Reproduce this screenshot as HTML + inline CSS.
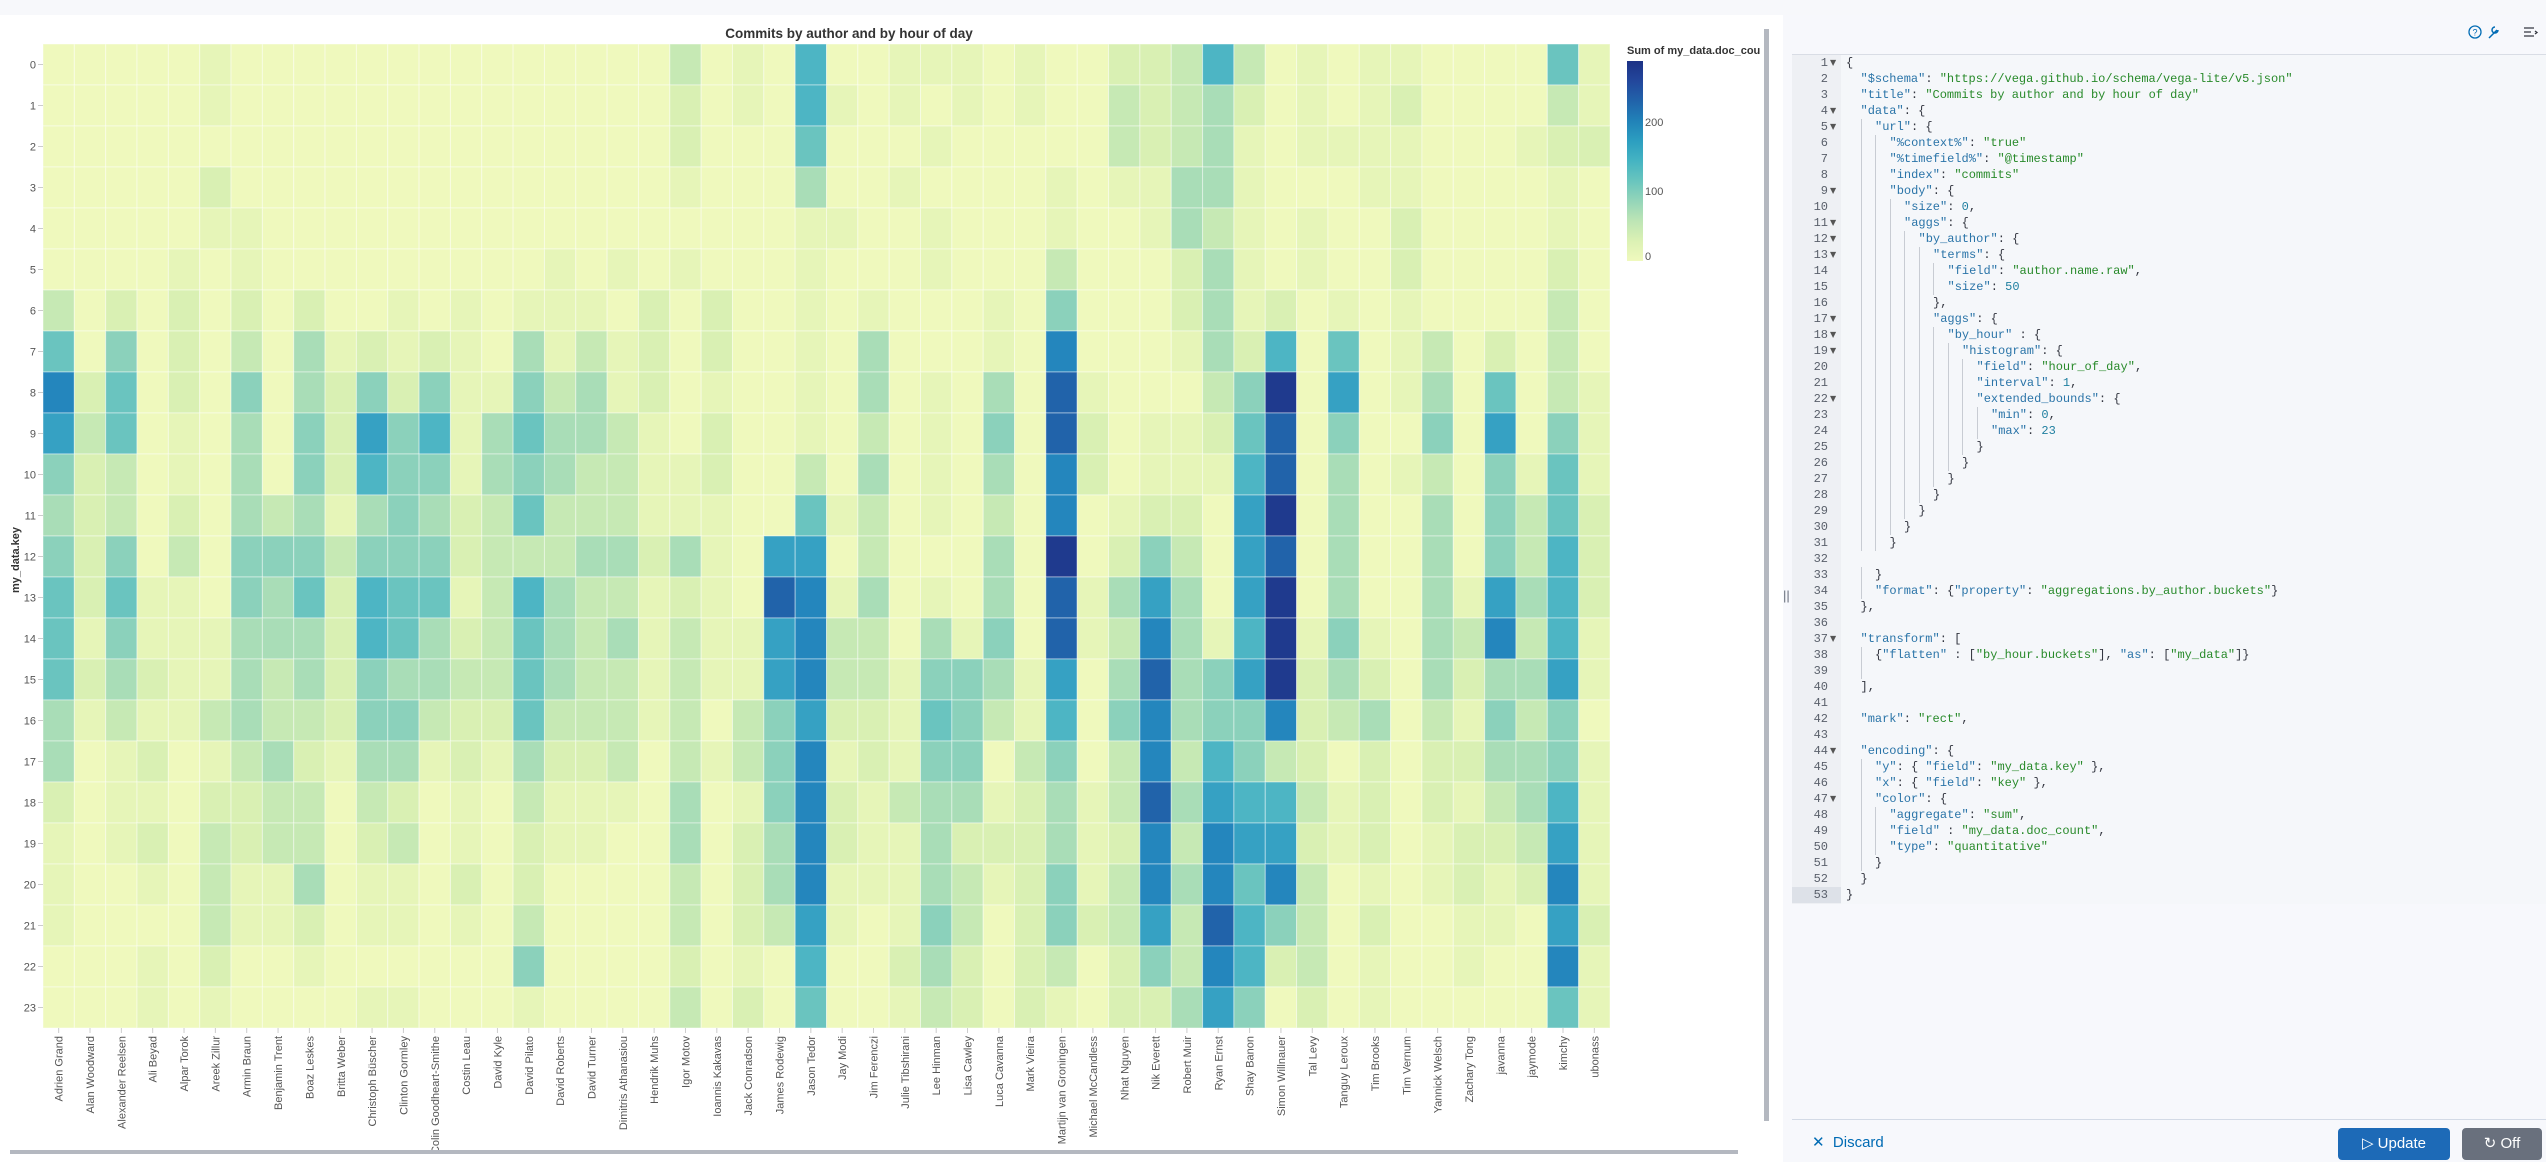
<!DOCTYPE html>
<html><head><meta charset="utf-8">
<style>
*{margin:0;padding:0;box-sizing:border-box}
body{width:2546px;height:1162px;overflow:hidden;background:#fff;font-family:"Liberation Sans",sans-serif;position:relative}
#top{position:absolute;left:0;top:0;width:2546px;height:15px;background:#f7f8fb}
#right{position:absolute;left:1783px;top:15px;width:763px;height:1147px;background:#f7f8fc}
#gut{position:absolute;left:1792px;top:54px;width:49px;height:850px;background:#eef0f4;border-top:1px solid #d9dde5}
#ed{position:absolute;left:1841px;top:54px;width:705px;height:850px;background:#f5f7fa;border-top:1px solid #d9dde5}
#nums{position:absolute;left:1792px;top:55px;width:36px;font:12px/16px "Liberation Mono",monospace;color:#5a606b;text-align:right}
#folds{position:absolute;left:1830px;top:55px;width:10px;font:8px/16px "DejaVu Sans",sans-serif;color:#555}
#hl{position:absolute;left:1792px;top:887px;width:49px;height:16px;background:#dde1e8}
#code{position:absolute;left:1846px;top:55px;font:12px/16px "Liberation Mono",monospace;color:#343741;white-space:normal}
#code div{height:16px;white-space:pre}
#code b{display:inline-block;width:14.5px;height:16px;vertical-align:top;font-weight:normal}
#code b.g{background:linear-gradient(#c8ccd3,#c8ccd3) no-repeat 0 0/1px 100%}
.k{color:#2a74a8}.s{color:#288a2a}.n{color:#1f7fa0}
#sep{position:absolute;left:1792px;top:1119px;width:754px;height:1px;background:#d3dae6}
.btn{position:absolute;top:1128px;height:32px;border-radius:4px;color:#fff;font-size:15px;line-height:32px;text-align:center}
</style></head><body>
<div id="top"></div>
<svg id="chart" width="1783" height="1162" style="position:absolute;left:0;top:0" xmlns="http://www.w3.org/2000/svg">
<rect x="0" y="15" width="1783" height="1147" fill="#fff"/>
<g id="cells"></g>
<text x="849" y="38" text-anchor="middle" font-family="Liberation Sans" font-weight="bold" font-size="13.5" fill="#333">Commits by author and by hour of day</text>
<g font-family="Liberation Sans" font-size="11" fill="#555" text-anchor="end">
<text x="36" y="68.5">0</text><text x="36" y="109.5">1</text><text x="36" y="150.5">2</text><text x="36" y="191.5">3</text><text x="36" y="232.5">4</text><text x="36" y="273.5">5</text><text x="36" y="314.5">6</text><text x="36" y="355.5">7</text><text x="36" y="396.5">8</text><text x="36" y="437.5">9</text><text x="36" y="478.5">10</text><text x="36" y="519.5">11</text><text x="36" y="560.5">12</text><text x="36" y="601.5">13</text><text x="36" y="642.5">14</text><text x="36" y="683.5">15</text><text x="36" y="724.5">16</text><text x="36" y="765.5">17</text><text x="36" y="806.5">18</text><text x="36" y="847.5">19</text><text x="36" y="888.5">20</text><text x="36" y="929.5">21</text><text x="36" y="970.5">22</text><text x="36" y="1011.5">23</text>
</g>
<text transform="translate(19,560) rotate(-90)" text-anchor="middle" font-family="Liberation Sans" font-weight="bold" font-size="11" fill="#333">my_data.key</text>
<g font-family="Liberation Sans" font-size="11" fill="#555" text-anchor="end">
<text transform="translate(62.7,1036) rotate(-90)">Adrien Grand</text>
<text transform="translate(94.0,1036) rotate(-90)">Alan Woodward</text>
<text transform="translate(125.4,1036) rotate(-90)">Alexander Reelsen</text>
<text transform="translate(156.7,1036) rotate(-90)">Ali Beyad</text>
<text transform="translate(188.1,1036) rotate(-90)">Alpar Torok</text>
<text transform="translate(219.4,1036) rotate(-90)">Areek Zillur</text>
<text transform="translate(250.7,1036) rotate(-90)">Armin Braun</text>
<text transform="translate(282.1,1036) rotate(-90)">Benjamin Trent</text>
<text transform="translate(313.4,1036) rotate(-90)">Boaz Leskes</text>
<text transform="translate(344.8,1036) rotate(-90)">Britta Weber</text>
<text transform="translate(376.1,1036) rotate(-90)">Christoph Büscher</text>
<text transform="translate(407.4,1036) rotate(-90)">Clinton Gormley</text>
<text transform="translate(438.8,1036) rotate(-90)">Colin Goodheart-Smithe</text>
<text transform="translate(470.1,1036) rotate(-90)">Costin Leau</text>
<text transform="translate(501.5,1036) rotate(-90)">David Kyle</text>
<text transform="translate(532.8,1036) rotate(-90)">David Pilato</text>
<text transform="translate(564.1,1036) rotate(-90)">David Roberts</text>
<text transform="translate(595.5,1036) rotate(-90)">David Turner</text>
<text transform="translate(626.8,1036) rotate(-90)">Dimitris Athanasiou</text>
<text transform="translate(658.2,1036) rotate(-90)">Hendrik Muhs</text>
<text transform="translate(689.5,1036) rotate(-90)">Igor Motov</text>
<text transform="translate(720.8,1036) rotate(-90)">Ioannis Kakavas</text>
<text transform="translate(752.2,1036) rotate(-90)">Jack Conradson</text>
<text transform="translate(783.5,1036) rotate(-90)">James Rodewig</text>
<text transform="translate(814.9,1036) rotate(-90)">Jason Tedor</text>
<text transform="translate(846.2,1036) rotate(-90)">Jay Modi</text>
<text transform="translate(877.5,1036) rotate(-90)">Jim Ferenczi</text>
<text transform="translate(908.9,1036) rotate(-90)">Julie Tibshirani</text>
<text transform="translate(940.2,1036) rotate(-90)">Lee Hinman</text>
<text transform="translate(971.6,1036) rotate(-90)">Lisa Cawley</text>
<text transform="translate(1002.9,1036) rotate(-90)">Luca Cavanna</text>
<text transform="translate(1034.2,1036) rotate(-90)">Mark Vieira</text>
<text transform="translate(1065.6,1036) rotate(-90)">Martijn van Groningen</text>
<text transform="translate(1096.9,1036) rotate(-90)">Michael McCandless</text>
<text transform="translate(1128.3,1036) rotate(-90)">Nhat Nguyen</text>
<text transform="translate(1159.6,1036) rotate(-90)">Nik Everett</text>
<text transform="translate(1190.9,1036) rotate(-90)">Robert Muir</text>
<text transform="translate(1222.3,1036) rotate(-90)">Ryan Ernst</text>
<text transform="translate(1253.6,1036) rotate(-90)">Shay Banon</text>
<text transform="translate(1285.0,1036) rotate(-90)">Simon Willnauer</text>
<text transform="translate(1316.3,1036) rotate(-90)">Tal Levy</text>
<text transform="translate(1347.6,1036) rotate(-90)">Tanguy Leroux</text>
<text transform="translate(1379.0,1036) rotate(-90)">Tim Brooks</text>
<text transform="translate(1410.3,1036) rotate(-90)">Tim Vernum</text>
<text transform="translate(1441.7,1036) rotate(-90)">Yannick Welsch</text>
<text transform="translate(1473.0,1036) rotate(-90)">Zachary Tong</text>
<text transform="translate(1504.3,1036) rotate(-90)">javanna</text>
<text transform="translate(1535.7,1036) rotate(-90)">jaymode</text>
<text transform="translate(1567.0,1036) rotate(-90)">kimchy</text>
<text transform="translate(1598.4,1036) rotate(-90)">ubonass</text>
</g>
<defs><linearGradient id="lg" x1="0" y1="1" x2="0" y2="0">
<stop offset="0" stop-color="#eff9bd"/><stop offset="0.1" stop-color="#dbf1b4"/><stop offset="0.2" stop-color="#bde5b5"/><stop offset="0.3" stop-color="#94d5b9"/><stop offset="0.4" stop-color="#69c5be"/><stop offset="0.5" stop-color="#45b4c2"/><stop offset="0.6" stop-color="#2c9ec0"/><stop offset="0.7" stop-color="#2182b8"/><stop offset="0.8" stop-color="#2163aa"/><stop offset="0.9" stop-color="#23479c"/><stop offset="1" stop-color="#1c3185"/>
</linearGradient>
<clipPath id="lc"><rect x="1600" y="0" width="160" height="300"/></clipPath></defs>
<rect x="1627" y="61" width="16" height="200" fill="url(#lg)"/>
<g font-family="Liberation Sans" font-size="11" fill="#555">
<text x="1645" y="126">200</text><text x="1645" y="195">100</text><text x="1645" y="260">0</text>
</g>
<text x="1627" y="54" clip-path="url(#lc)" font-family="Liberation Sans" font-weight="bold" font-size="11" fill="#333">Sum of my_data.doc_count</text>
<rect x="1764" y="29" width="5" height="1092" fill="#b4b8c0"/>
<rect x="10" y="1150" width="1728" height="4" fill="#b4b8c0"/>
</svg>
<div id="right"></div>
<div style="position:absolute;left:1783px;top:588px;font:13px 'Liberation Sans';color:#69707d">||</div>
<svg width="80" height="20" style="position:absolute;left:2466px;top:23px" xmlns="http://www.w3.org/2000/svg">
<circle cx="9" cy="9" r="6" fill="none" stroke="#006bb4" stroke-width="1.3"/>
<text x="9" y="12.5" text-anchor="middle" font-family="Liberation Sans" font-size="9" fill="#006bb4">?</text>
<path d="M23 15 L31 7 M29 4 a3 3 0 1 0 3 3" fill="none" stroke="#006bb4" stroke-width="1.5"/>
<path d="M58 5 h10 M58 9 h7 M58 13 h10 M69 8 l2 1.5 -2 1.5" fill="none" stroke="#343741" stroke-width="1.3"/>
</svg>
<div id="gut"></div><div id="ed"></div><div id="hl"></div>
<div id="nums">1<br>2<br>3<br>4<br>5<br>6<br>7<br>8<br>9<br>10<br>11<br>12<br>13<br>14<br>15<br>16<br>17<br>18<br>19<br>20<br>21<br>22<br>23<br>24<br>25<br>26<br>27<br>28<br>29<br>30<br>31<br>32<br>33<br>34<br>35<br>36<br>37<br>38<br>39<br>40<br>41<br>42<br>43<br>44<br>45<br>46<br>47<br>48<br>49<br>50<br>51<br>52<br>53</div>
<div id="folds">▼<br><br><br>▼<br>▼<br><br><br><br>▼<br><br>▼<br>▼<br>▼<br><br><br><br>▼<br>▼<br>▼<br><br><br>▼<br><br><br><br><br><br><br><br><br><br><br><br><br><br><br>▼<br><br><br><br><br><br><br>▼<br><br><br>▼<br></div>
<div id="code">
<div>{</div>
<div><b></b><span class="k">"$schema"</span>: <span class="s">"https://vega.github.io/schema/vega-lite/v5.json"</span></div>
<div><b></b><span class="k">"title"</span>: <span class="s">"Commits by author and by hour of day"</span></div>
<div><b></b><span class="k">"data"</span>: {</div>
<div><b></b><b class="g"></b><span class="k">"url"</span>: {</div>
<div><b></b><b class="g"></b><b class="g"></b><span class="k">"%context%"</span>: <span class="s">"true"</span></div>
<div><b></b><b class="g"></b><b class="g"></b><span class="k">"%timefield%"</span>: <span class="s">"@timestamp"</span></div>
<div><b></b><b class="g"></b><b class="g"></b><span class="k">"index"</span>: <span class="s">"commits"</span></div>
<div><b></b><b class="g"></b><b class="g"></b><span class="k">"body"</span>: {</div>
<div><b></b><b class="g"></b><b class="g"></b><b class="g"></b><span class="k">"size"</span>: <span class="n">0</span>,</div>
<div><b></b><b class="g"></b><b class="g"></b><b class="g"></b><span class="k">"aggs"</span>: {</div>
<div><b></b><b class="g"></b><b class="g"></b><b class="g"></b><b class="g"></b><span class="k">"by_author"</span>: {</div>
<div><b></b><b class="g"></b><b class="g"></b><b class="g"></b><b class="g"></b><b class="g"></b><span class="k">"terms"</span>: {</div>
<div><b></b><b class="g"></b><b class="g"></b><b class="g"></b><b class="g"></b><b class="g"></b><b class="g"></b><span class="k">"field"</span>: <span class="s">"author.name.raw"</span>,</div>
<div><b></b><b class="g"></b><b class="g"></b><b class="g"></b><b class="g"></b><b class="g"></b><b class="g"></b><span class="k">"size"</span>: <span class="n">50</span></div>
<div><b></b><b class="g"></b><b class="g"></b><b class="g"></b><b class="g"></b><b class="g"></b>},</div>
<div><b></b><b class="g"></b><b class="g"></b><b class="g"></b><b class="g"></b><b class="g"></b><span class="k">"aggs"</span>: {</div>
<div><b></b><b class="g"></b><b class="g"></b><b class="g"></b><b class="g"></b><b class="g"></b><b class="g"></b><span class="k">"by_hour"</span> : {</div>
<div><b></b><b class="g"></b><b class="g"></b><b class="g"></b><b class="g"></b><b class="g"></b><b class="g"></b><b class="g"></b><span class="k">"histogram"</span>: {</div>
<div><b></b><b class="g"></b><b class="g"></b><b class="g"></b><b class="g"></b><b class="g"></b><b class="g"></b><b class="g"></b><b class="g"></b><span class="k">"field"</span>: <span class="s">"hour_of_day"</span>,</div>
<div><b></b><b class="g"></b><b class="g"></b><b class="g"></b><b class="g"></b><b class="g"></b><b class="g"></b><b class="g"></b><b class="g"></b><span class="k">"interval"</span>: <span class="n">1</span>,</div>
<div><b></b><b class="g"></b><b class="g"></b><b class="g"></b><b class="g"></b><b class="g"></b><b class="g"></b><b class="g"></b><b class="g"></b><span class="k">"extended_bounds"</span>: {</div>
<div><b></b><b class="g"></b><b class="g"></b><b class="g"></b><b class="g"></b><b class="g"></b><b class="g"></b><b class="g"></b><b class="g"></b><b class="g"></b><span class="k">"min"</span>: <span class="n">0</span>,</div>
<div><b></b><b class="g"></b><b class="g"></b><b class="g"></b><b class="g"></b><b class="g"></b><b class="g"></b><b class="g"></b><b class="g"></b><b class="g"></b><span class="k">"max"</span>: <span class="n">23</span></div>
<div><b></b><b class="g"></b><b class="g"></b><b class="g"></b><b class="g"></b><b class="g"></b><b class="g"></b><b class="g"></b><b class="g"></b>}</div>
<div><b></b><b class="g"></b><b class="g"></b><b class="g"></b><b class="g"></b><b class="g"></b><b class="g"></b><b class="g"></b>}</div>
<div><b></b><b class="g"></b><b class="g"></b><b class="g"></b><b class="g"></b><b class="g"></b><b class="g"></b>}</div>
<div><b></b><b class="g"></b><b class="g"></b><b class="g"></b><b class="g"></b><b class="g"></b>}</div>
<div><b></b><b class="g"></b><b class="g"></b><b class="g"></b><b class="g"></b>}</div>
<div><b></b><b class="g"></b><b class="g"></b><b class="g"></b>}</div>
<div><b></b><b class="g"></b><b class="g"></b>}</div>
<div></div>
<div><b></b><b class="g"></b>}</div>
<div><b></b><b class="g"></b><span class="k">"format"</span>: {<span class="k">"property"</span>: <span class="s">"aggregations.by_author.buckets"</span>}</div>
<div><b></b>},</div>
<div></div>
<div><b></b><span class="k">"transform"</span>: [</div>
<div><b></b><b class="g"></b>{<span class="k">"flatten"</span> : [<span class="s">"by_hour.buckets"</span>], <span class="k">"as"</span>: [<span class="s">"my_data"</span>]}</div>
<div><b></b><b class="g"></b></div>
<div><b></b>],</div>
<div></div>
<div><b></b><span class="k">"mark"</span>: <span class="s">"rect"</span>,</div>
<div></div>
<div><b></b><span class="k">"encoding"</span>: {</div>
<div><b></b><b class="g"></b><span class="k">"y"</span>: { <span class="k">"field"</span>: <span class="s">"my_data.key"</span> },</div>
<div><b></b><b class="g"></b><span class="k">"x"</span>: { <span class="k">"field"</span>: <span class="s">"key"</span> },</div>
<div><b></b><b class="g"></b><span class="k">"color"</span>: {</div>
<div><b></b><b class="g"></b><b class="g"></b><span class="k">"aggregate"</span>: <span class="s">"sum"</span>,</div>
<div><b></b><b class="g"></b><b class="g"></b><span class="k">"field"</span> : <span class="s">"my_data.doc_count"</span>,</div>
<div><b></b><b class="g"></b><b class="g"></b><span class="k">"type"</span>: <span class="s">"quantitative"</span></div>
<div><b></b><b class="g"></b>}</div>
<div><b></b>}</div>
<div>}</div>
</div>
<div id="sep"></div>
<div style="position:absolute;left:1812px;top:1131px;font:15px/24px 'Liberation Sans';color:#006bb4">✕&nbsp; Discard</div>
<div class="btn" style="left:2338px;width:112px;background:#1d6ab7">▷ Update</div>
<div class="btn" style="left:2462px;width:80px;background:#69707d">↻ Off</div>
<script>
var R=[
"00000100000000000000301070011101002237301011000061",
"00000100000000000000201071010101003234201012000031",
"00000000000000000000200060001000003234101111000122",
"00000200000000000000100040010000101144100011000010",
"00000110000000000000000011001000100143101002000010",
"00001010000000001010100010001000300024101002000020",
"30202020200101011102020010100010500024120101000030",
"60502030412121041312020010400010900014270601302030",
"9260205042525115341201001"+"0401040A100035B0801406031",
"8360104052857146443102001"+"0301050A201126A0500508051",
"5230104052755145433112003"+"04010409201117A0401305161",
"4230204341454236333111006"+"13010309012208B0400405362",
"5250305553555233344241088"+"0300040B025308A0400405372",
"62611054627661374331210A9"+"1401040A148408B0400418472",
"6151114442764236434131189"+"3304150A139417B1510439371",
"6242114342544336433131189"+"3315541804A458B2420424481",
"4131134332553226333130358"+"2216531705945592340315350",
"4012013421441214223031359"+"1215503503937532020224451",
"2011022330320103111040159"+"2134412413A48773120213471",
"1012032330230102110040249"+"2114222412939882120122381",
"1001031140110202000030249"+"1114312513949693010121291",
"1000031120110103000030238"+"101530252383A753020011082",
"0001020010000005000020107"+"0024202302539723010010091",
"0001010000110001000030206"+"0013202102248502010000061"];
var C={"0":"#eff9bd","1":"#e6f5b8","2":"#d9f0b3","3":"#c6e9b4","4":"#a9ddb7","5":"#8bd1bb","6":"#6ac4bf","7":"#4db5c4","8":"#36a1c3","9":"#2486bd","A":"#2163aa","B":"#1f3a8e"};
var g=document.getElementById("cells"),s="",w=1567/50;
for(var r=0;r<24;r++){var row=R[r];for(var c=0;c<50;c++){var ch=row[c]||"0";s+='<rect x="'+(43+c*w).toFixed(2)+'" y="'+(44+r*41)+'" width="'+w.toFixed(2)+'" height="41" fill="'+(C[ch]||C["0"])+'" stroke="#fff" stroke-opacity="0.45" stroke-width="1"/>';}}
for(var r=0;r<24;r++){s+='<line x1="38" x2="43" y1="'+(64.5+r*41)+'" y2="'+(64.5+r*41)+'" stroke="#ccc"/>';}
for(var c=0;c<50;c++){var x=(43+(c+0.5)*w).toFixed(2);s+='<line x1="'+x+'" x2="'+x+'" y1="1028" y2="1033" stroke="#ccc"/>';}
g.innerHTML=s;
</script>
</body></html>
